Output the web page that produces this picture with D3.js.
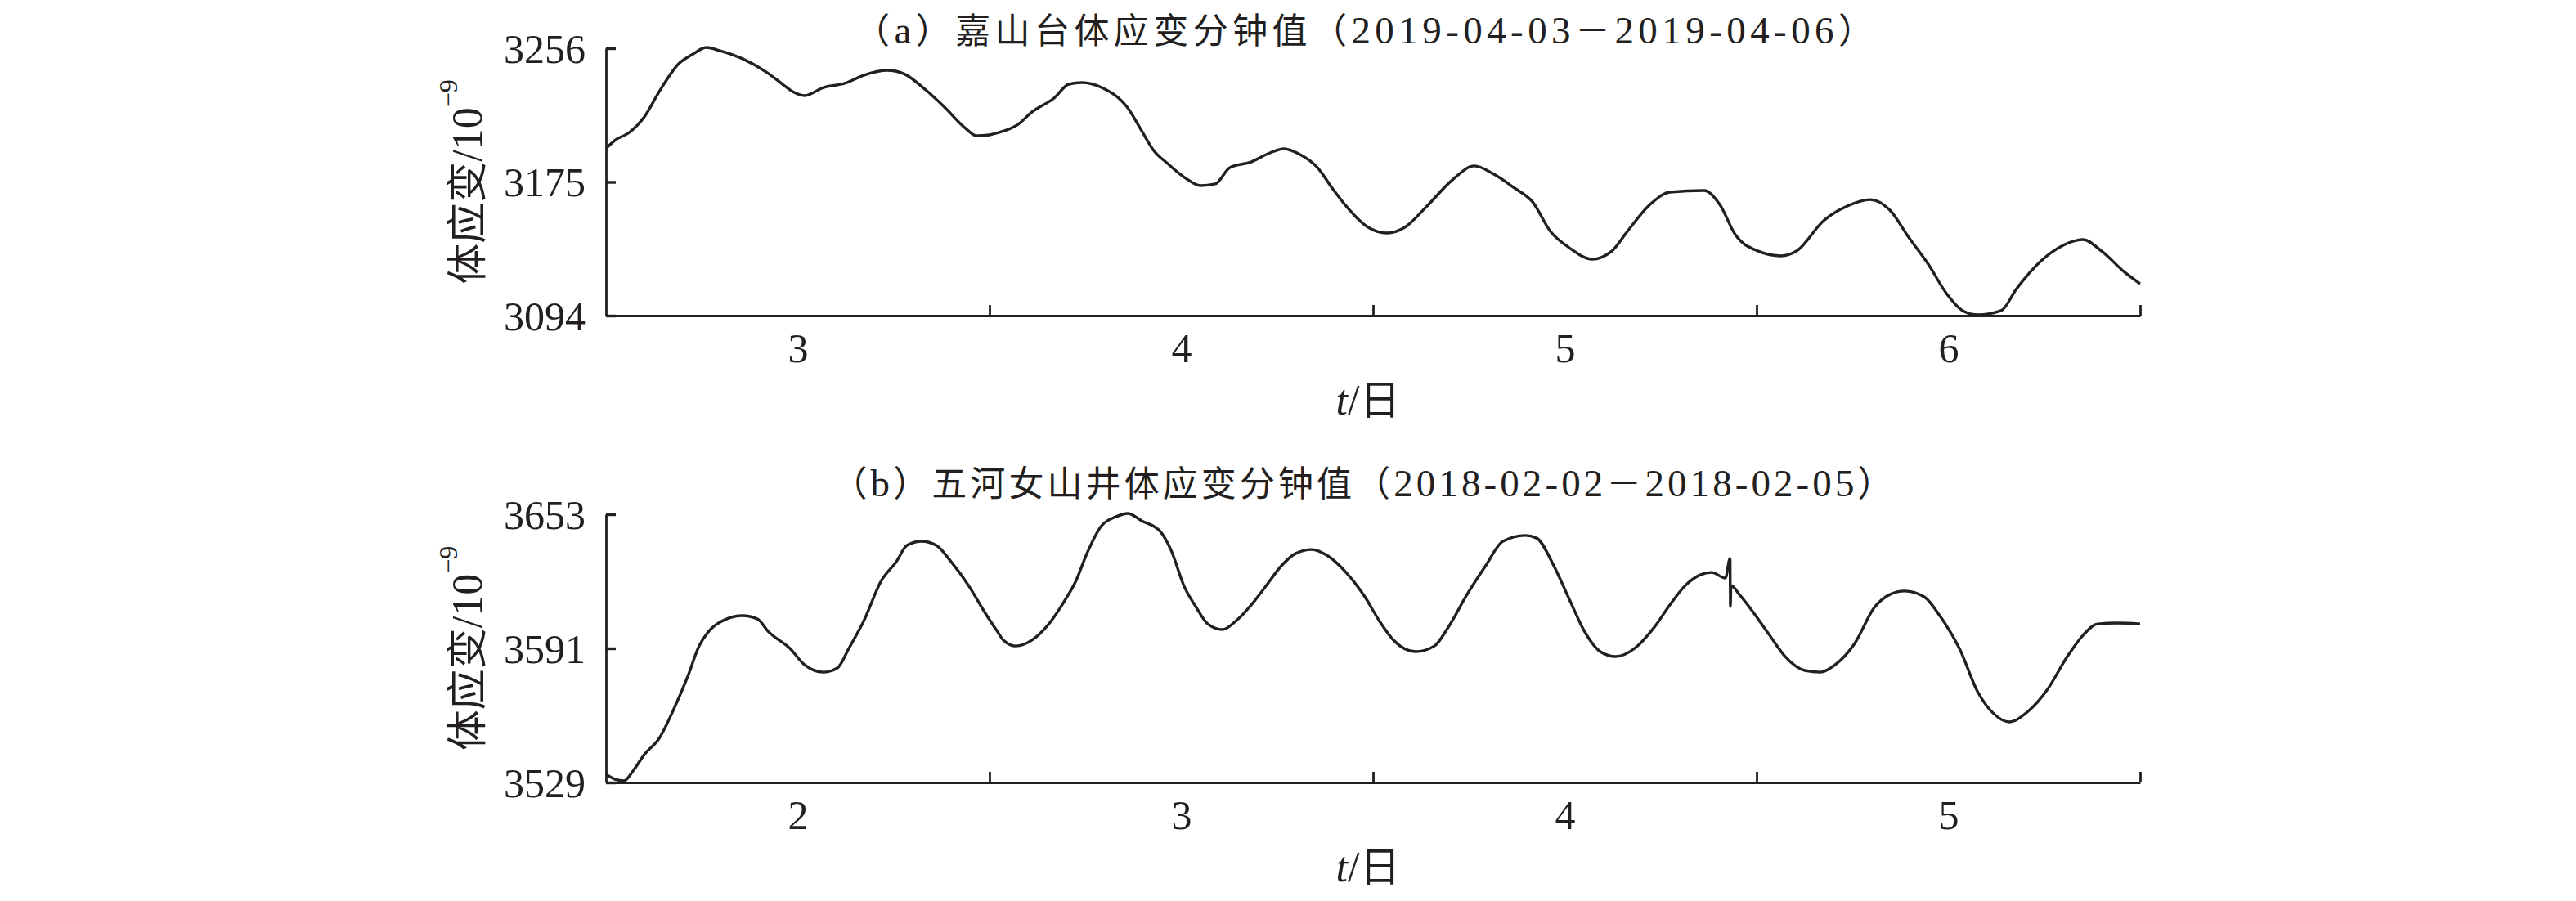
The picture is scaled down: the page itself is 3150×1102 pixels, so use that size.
<!DOCTYPE html>
<html><head><meta charset="utf-8">
<script src="https://cdn.jsdelivr.net/npm/d3@7"></script>
<style>
html,body{margin:0;padding:0;background:#fff;}
svg{display:block;}
text{fill:#231f20;}
</style></head>
<body>
<svg id="chart" width="3150" height="1102"></svg>
<script>
// ---- data (hours from start of the 4-day window, values in 10^-9) ----
const hoursA = [0,0.56,1.48,2.40,3.33,4.55,5.37,6.29,6.96,8.55,
10.03,11.05,11.77,12.43,13.61,14.94,16.12,17.60,18.63,20.01,
21.13,22.51,23.18,24.00,24.41,25.79,26.66,28.04,28.96,29.78,
31.01,32.65,33.52,34.23,35.15,36.28,37.20,38.12,39.04,40.37,
41.55,42.42,43.34,44.52,45.44,46.31,47.69,48.87,49.99,51.38,
52.96,54.34,55.47,56.85,57.98,59.10,60.28,61.71,62.94,63.91,
65.34,66.57,68.72,69.69,70.67,72.10,73.53,74.50,76.19,77.68,
79.11,80.34,81.51,82.74,83.92,84.89,85.86,87.30,88.27,89.75,
91.19,92.42,93.59,95.03,96.00];
const valuesA = [3195.2,3200.2,3205.1,3214.4,3229.7,3246.6,3252.0,3256.5,3255.0,3249.6,
3241.6,3234.2,3229.2,3227.3,3232.2,3234.7,3239.6,3242.6,3240.6,3230.7,
3220.8,3207.4,3203.0,3203.5,3204.5,3209.9,3217.4,3225.8,3234.2,3235.2,
3232.2,3219.8,3206.0,3194.6,3186.1,3177.2,3172.8,3173.8,3183.7,3187.1,
3192.6,3195.1,3192.1,3183.7,3171.3,3160.4,3147.5,3144.0,3147.5,3160.4,
3176.2,3184.7,3180.2,3171.3,3162.9,3145.0,3135.1,3128.2,3133.1,3145.0,
3161.4,3168.8,3169.8,3161.4,3143.0,3133.1,3130.2,3133.1,3151.5,3160.4,
3164.3,3157.9,3141.6,3125.2,3106.9,3097.0,3094.5,3097.0,3110.3,3126.7,
3136.6,3140.1,3133.1,3120.3,3113.3];

const hoursB = [0,0.56,1.13,1.69,2.40,3.33,4.25,5.12,5.83,6.40,
7.42,8.55,9.47,10.18,11.51,12.43,13.61,14.48,15.20,16.12,
17.24,18.17,18.83,19.75,20.67,21.59,22.72,23.64,24.51,24.87,
25.64,26.66,27.84,28.76,29.42,30.09,31.01,31.93,32.65,33.52,
34.69,35.36,36.18,36.94,37.66,38.58,39.50,40.37,41.29,42.22,
43.14,44.16,45.18,46.31,47.49,48.41,49.28,50.66,51.84,52.71,
53.88,55.01,56.13,57.52,58.23,59.31,60.28,61.25,62.22,63.19,
64.37,65.60,66.57,67.49,68.47,69.18,70.05,
70.34,70.36,70.40,
70.92,71.84,72.82,73.79,75.02,75.99,76.91,78.14,79.37,80.34,
81.26,82.49,83.46,84.69,85.86,86.84,87.81,88.99,90.21,91.44,
92.42,93.34,94.56,96.00];
const valuesB = [3532.8,3530.5,3529.8,3534.3,3541.9,3549.4,3563.0,3578.1,3592.1,3598.6,
3604.2,3606.1,3604.6,3598.6,3591.0,3583.4,3580.0,3581.9,3591.0,3603.5,
3622.4,3631.1,3638.6,3640.5,3638.6,3631.1,3619.7,3608.4,3598.6,3594.8,
3592.1,3594.8,3603.5,3613.7,3622.4,3634.8,3647.7,3651.9,3653.4,3650.0,
3645.0,3636.4,3619.7,3609.9,3602.3,3599.7,3604.2,3611.0,3619.7,3628.8,
3634.8,3636.7,3633.7,3626.1,3614.8,3603.5,3594.8,3589.5,3592.1,3600.8,
3615.9,3628.8,3640.5,3643.2,3642.0,3629.2,3613.7,3598.6,3589.5,3587.2,
3591.0,3600.8,3611.0,3619.7,3625.0,3626.1,3623.5,
3632.6,3610.3,3620.0,
3615.9,3607.2,3597.0,3587.2,3580.8,3580.0,3583.4,3593.3,3609.9,3615.9,
3617.5,3614.8,3606.1,3591.0,3570.6,3560.8,3557.0,3561.9,3572.1,3587.2,
3597.0,3602.3,3602.7,3602.3];

const yTicksA = [3094, 3175, 3256];
const yTicksB = [3529, 3591, 3653];
const dayLabelsA = ["3", "4", "5", "6"];
const dayLabelsB = ["2", "3", "4", "5"];
const dayBoundaries = [24, 48, 72, 96];
const dayCentres = [12, 36, 60, 84];
const titleA = "（a）嘉山台体应变分钟值（2019-04-03－2019-04-06）";
const titleB = "（b）五河女山井体应变分钟值（2018-02-02－2018-02-05）";

// ---- drawing ----
const INK = "#231f20";
const LATIN = "'Liberation Serif','Times New Roman',serif";
const CJK = "'Noto Sans CJK SC','Noto Sans CJK JP',sans-serif";
const svg = d3.select("#chart");

// split text into latin / CJK runs so each run gets its proper font
function runs(str) {
  const out = [];
  const re = /[\u3000-\u9fff\uff00-\uffef]+|[^\u3000-\u9fff\uff00-\uffef]+/g;
  let m;
  while ((m = re.exec(str)) !== null) {
    out.push({ t: m[0], cjk: /[\u3000-\u9fff\uff00-\uffef]/.test(m[0]) });
  }
  return out;
}

function panel(cfg) {
  const x = d3.scaleLinear().domain([0, 96]).range([741, 2617]);
  const y = d3.scaleLinear().domain([cfg.yTicks[0], cfg.yTicks[2]]).range([cfg.bottom, cfg.top]);
  const g = svg.append("g");

  // title
  const tt = g.append("text")
    .attr("x", cfg.titleX).attr("y", cfg.titleBase)
    .attr("text-anchor", "middle")
    .attr("textLength", cfg.titleLen).attr("lengthAdjust", "spacing");
  runs(cfg.title).forEach(r => {
    tt.append("tspan")
      .attr("font-family", r.cjk ? CJK : LATIN)
      .attr("font-size", r.cjk ? 43 : 47)
      .text(r.t);
  });

  // left axis
  const ya = g.append("g").attr("transform", `translate(${x.range()[0]},0)`)
    .call(d3.axisLeft(y).tickValues(cfg.yTicks).tickSize(-12).tickSizeOuter(0).tickPadding(25).tickFormat(d3.format("d")));
  ya.select(".domain").attr("stroke", INK).attr("stroke-width", 2.8);
  ya.selectAll(".tick line").attr("stroke", INK).attr("stroke-width", 3.4);
  ya.selectAll(".tick text").attr("font-family", LATIN).attr("font-size", 50).attr("fill", INK).attr("dy", "0.34em");

  // bottom axis: ticks at day boundaries
  const xa = g.append("g").attr("transform", `translate(0,${cfg.bottom})`)
    .call(d3.axisBottom(x).tickValues(dayBoundaries).tickSize(-13).tickSizeOuter(0).tickFormat(""));
  xa.select(".domain").attr("stroke", INK).attr("stroke-width", 3);
  xa.selectAll(".tick line").attr("stroke", INK).attr("stroke-width", 2.8);

  // bottom axis labels: day numbers at the middle of each day
  const xl = g.append("g").attr("transform", `translate(0,${cfg.bottom})`)
    .call(d3.axisBottom(x).tickValues(dayCentres).tickSize(0).tickPadding(21)
      .tickFormat((d, i) => cfg.days[i]));
  xl.select(".domain").remove();
  xl.selectAll(".tick text").attr("font-family", LATIN).attr("font-size", 50).attr("fill", INK);

  // axis titles
  const xt = g.append("text")
    .attr("x", 1673).attr("y", cfg.bottom + 121)
    .attr("text-anchor", "middle")
    .attr("font-size", 52);
  xt.append("tspan").attr("font-family", LATIN).attr("font-style", "italic").text("t");
  xt.append("tspan").attr("font-family", LATIN).text("/");
  xt.append("tspan").attr("font-family", CJK).attr("font-size", 50).text("日");

  const yt = g.append("text")
    .attr("transform", `translate(589,${(cfg.top + cfg.bottom) / 2}) rotate(-90)`)
    .attr("text-anchor", "middle")
    .attr("font-size", 52);
  yt.append("tspan").attr("font-family", CJK).attr("font-size", 50).text("体应变");
  yt.append("tspan").attr("font-family", LATIN).text("/10");
  yt.append("tspan").attr("font-family", LATIN).attr("font-size", 32).attr("dy", "-0.95em").text("−9");

  // the series
  const line = d3.line().x((d, i) => x(cfg.hours[i])).y(d => y(d)).curve(d3.curveMonotoneX);
  g.append("path")
    .datum(cfg.values)
    .attr("d", line)
    .attr("fill", "none")
    .attr("stroke", INK)
    .attr("stroke-width", 3.4)
    .attr("stroke-linejoin", "round");
}

panel({ top: 59, bottom: 386, yTicks: yTicksA, hours: hoursA, values: valuesA,
        days: dayLabelsA, title: titleA, titleX: 1668, titleBase: 53, titleLen: 1246 });
panel({ top: 629, bottom: 957, yTicks: yTicksB, hours: hoursB, values: valuesB,
        days: dayLabelsB, title: titleB, titleX: 1666, titleBase: 607, titleLen: 1297 });
</script>
</body></html>
